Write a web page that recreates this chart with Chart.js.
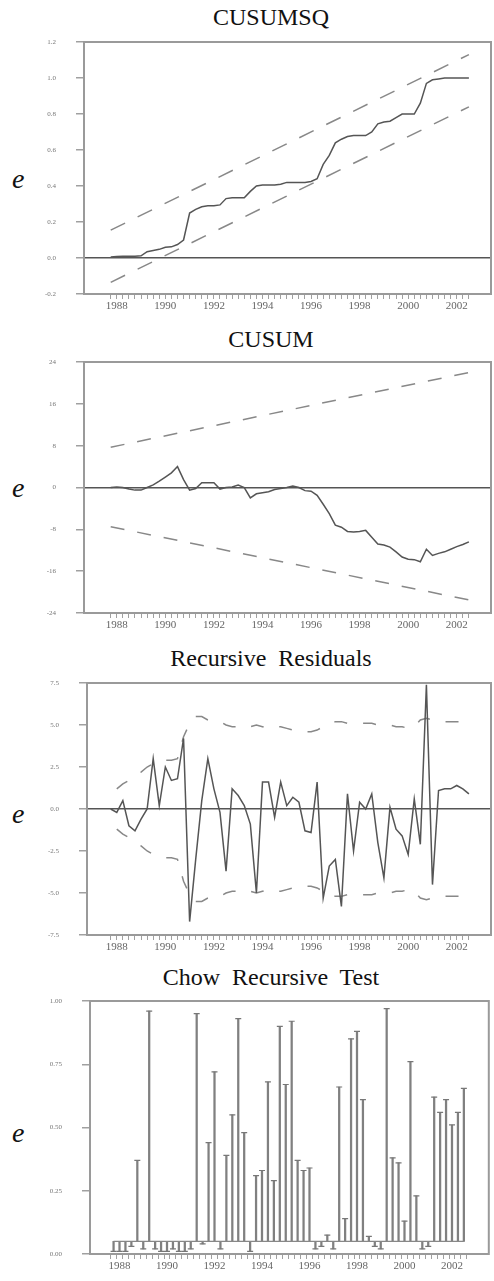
<!DOCTYPE html>
<html>
<head>
<meta charset="utf-8">
<script src="https://cdn.jsdelivr.net/npm/chart.js@4.4.0/dist/chart.umd.min.js"></script>
<style>
  body { margin: 0; background: #fff; }
  #page { position: relative; width: 494px; height: 1281px; overflow: hidden; background: #fff; }
  canvas { position: absolute; left: 0; }
  .title { position: absolute; left: 271px; transform: translateX(-50%); white-space: nowrap;
           font: 24px/24px "Liberation Serif", serif; color: #111; word-spacing: 6px; }
  .elab { position: absolute; left: 12px; font: italic 28px/28px "Liberation Serif", serif; color: #111; }
</style>
</head>
<body>
<div id="page">
  <div class="title" style="top:5px">CUSUMSQ</div>
  <div class="title" style="top:327px">CUSUM</div>
  <div class="title" style="top:646px">Recursive Residuals</div>
  <div class="title" style="top:965px">Chow Recursive Test</div>
  <div class="elab" style="top:165px">e</div>
  <div class="elab" style="top:474px">e</div>
  <div class="elab" style="top:800px">e</div>
  <div class="elab" style="top:1119px">e</div>
  <canvas id="c1" width="494" height="320" style="top:0px"></canvas>
  <canvas id="c2" width="494" height="320" style="top:320px"></canvas>
  <canvas id="c3" width="494" height="320" style="top:640px"></canvas>
  <canvas id="c4" width="494" height="321" style="top:960px"></canvas>
</div>
<script>
// trimestres 1988Q1 - 2002Q4
const quarters = [];
for (let y = 1988; y <= 2002; y++) {
    for (let q = 0; q < 4; q++) quarters.push(y + q / 4);
}
const yearLabels = [1988, 1990, 1992, 1994, 1996, 1998, 2000, 2002];

// CUSUMSQ
const cusumsq = [0.005, 0.008, 0.010, 0.010, 0.010, 0.012, 0.035, 0.042, 0.048, 0.060,
    0.062, 0.075, 0.10, 0.25, 0.27, 0.285, 0.29, 0.29, 0.295, 0.33,
    0.335, 0.335, 0.335, 0.37, 0.40, 0.405, 0.405, 0.405, 0.41, 0.42,
    0.42, 0.42, 0.42, 0.425, 0.44, 0.52, 0.57, 0.64, 0.66, 0.675,
    0.68, 0.68, 0.68, 0.70, 0.745, 0.755, 0.76, 0.78, 0.80, 0.80,
    0.80, 0.86, 0.97, 0.99, 0.995, 1.0, 1.0, 1.0, 1.0, 1.0];
const cusumsqUpper = [0.155, 1.13];   // inicio y fin de la banda
const cusumsqLower = [-0.135, 0.84];
const cusumsqTicks = [-0.2, 0.0, 0.2, 0.4, 0.6, 0.8, 1.0, 1.2];

// CUSUM
const cusum = [0.0, 0.1, 0.0, -0.3, -0.5, -0.5, 0.0, 0.5, 1.2, 2.0,
    2.8, 4.0, 1.5, -0.5, -0.2, 0.9, 0.9, 0.9, -0.3, 0.0,
    0.1, 0.45, 0.0, -2.0, -1.2, -1.0, -0.8, -0.4, -0.2, 0.0,
    0.3, 0.0, -0.6, -0.7, -1.5, -3.2, -5.0, -7.2, -7.6, -8.4,
    -8.5, -8.4, -8.2, -9.5, -10.8, -11.0, -11.4, -12.3, -13.3, -13.7,
    -13.8, -14.2, -11.8, -13.0, -12.6, -12.3, -11.8, -11.3, -10.9, -10.4];
const cusumUpper = [7.7, 22.0];
const cusumLower = [-7.5, -21.5];
const cusumTicks = [-24, -16, -8, 0, 8, 16, 24];

// Residuos recursivos y banda de +-2 errores estandar
const residuals = [0.0, -0.2, 0.5, -1.0, -1.3, -0.6, 0.0, 3.0, 0.2, 2.5,
    1.7, 1.8, 4.2, -6.7, -3.0, 0.5, 3.0, 1.2, -0.2, -3.7,
    1.2, 0.8, 0.2, -0.9, -5.0, 1.6, 1.6, -0.5, 1.6, 0.2,
    0.7, 0.4, -1.3, -1.4, 1.6, -5.3, -3.4, -3.0, -5.8, 0.9,
    -2.5, 0.4, 0.0, 0.9, -2.0, -4.1, 0.1, -1.2, -1.6, -2.7,
    0.6, -2.1, 7.4, -4.5, 1.1, 1.2, 1.2, 1.4, 1.2, 0.9];
const residBand = [null, 1.2, 1.5, 1.7, 2.0, 2.2, 2.5, 2.7, 2.8, 2.9,
    2.9, 3.0, 4.3, 5.1, 5.5, 5.5, 5.3, 5.2, 5.2, 5.0,
    4.9, 4.9, 4.8, 4.9, 5.0, 4.9, 4.8, 4.9, 4.9, 4.8,
    4.7, 4.6, 4.6, 4.6, 4.7, 4.9, 5.1, 5.2, 5.2, 5.1,
    5.1, 5.1, 5.1, 5.1, 5.0, 5.0, 5.0, 4.9, 4.9, 4.8,
    4.9, 5.3, 5.4, 5.3, 5.3, 5.2, 5.2, 5.2, 5.2, 5.2];
const residTicks = [-7.5, -5.0, -2.5, 0.0, 2.5, 5.0, 7.5];

// Prueba de Chow (probabilidades)
const chowProb = [0.01, 0.01, 0.01, 0.03, 0.37, 0.02, 0.96, 0.02, 0.01, 0.01,
    0.02, 0.01, 0.01, 0.02, 0.95, 0.04, 0.44, 0.72, 0.02, 0.39,
    0.55, 0.93, 0.48, 0.01, 0.31, 0.33, 0.68, 0.29, 0.90, 0.67,
    0.92, 0.37, 0.33, 0.34, 0.02, 0.03, 0.075, 0.02, 0.66, 0.14,
    0.85, 0.88, 0.61, 0.07, 0.03, 0.02, 0.97, 0.38, 0.36, 0.13,
    0.76, 0.23, 0.02, 0.03, 0.62, 0.56, 0.61, 0.51, 0.56, 0.655];
const chowLevel = 0.05;
const chowTicks = [0.00, 0.25, 0.50, 0.75, 1.00];

const SOLID = "#555";
const DASH = "#888";

// marco gris alrededor del area del grafico
const framePlugin = {
    id: "frame",
    beforeDatasetsDraw(chart) {
        const a = chart.chartArea;
        const ctx = chart.ctx;
        ctx.save();
        ctx.strokeStyle = "#9a9a9a";
        ctx.lineWidth = 2;
        ctx.strokeRect(a.left, a.top, a.right - a.left, a.bottom - a.top);
        ctx.restore();
    }
};

function series(values) {
    return quarters.map((x, i) => ({ x: x, y: values[i] }));
}
function ends(pair) {
    return [{ x: quarters[0], y: pair[0] }, { x: quarters[quarters.length - 1], y: pair[1] }];
}

function makeChart(id, type, datasets, yTicks, fmt, opts) {
    const left = opts.left;
    const xMin = 1988 - (110.7 - left) / 24.28;
    return new Chart(document.getElementById(id), {
        type: type,
        data: { datasets: datasets },
        plugins: [framePlugin],
        options: {
            responsive: false,
            animation: false,
            devicePixelRatio: 1,
            layout: { padding: { left: left - 50, right: 3, top: opts.top, bottom: opts.bottom } },
            plugins: { legend: { display: false }, tooltip: { enabled: false } },
            scales: {
                x: {
                    type: "linear",
                    min: xMin,
                    max: 2003.66,
                    afterBuildTicks: s => { s.ticks = quarters.map(v => ({ value: v })); },
                    afterFit: s => { s.height = 20; },
                    border: { display: false },
                    grid: { drawOnChartArea: false, tickLength: 5, tickColor: "#a0a0a0" },
                    ticks: {
                        autoSkip: false, maxRotation: 0, padding: 1, color: "#666",
                        font: { family: "Liberation Serif", size: 11 },
                        callback: v => yearLabels.includes(v - 0.25) ? String(v - 0.25) : ""
                    }
                },
                y: {
                    min: yTicks[0],
                    max: yTicks[yTicks.length - 1],
                    afterBuildTicks: s => { s.ticks = yTicks.map(v => ({ value: v })); },
                    afterFit: s => { s.width = 50; },
                    border: { display: false },
                    grid: {
                        tickLength: 8, tickColor: "#a0a0a0", lineWidth: 1.5,
                        color: c => (opts.zero && c.tick && c.tick.value === 0) ? "#555" : "rgba(0,0,0,0)"
                    },
                    ticks: {
                        padding: 20, color: "#777",
                        font: { family: "Liberation Serif", size: 7 },
                        callback: fmt
                    }
                }
            }
        }
    });
}

const lineStyle = { borderColor: SOLID, borderWidth: 1.5, pointRadius: 0, tension: 0, fill: false };
const dashStyle = (d) => ({ borderColor: DASH, borderWidth: 1.5, pointRadius: 0, tension: 0, fill: false, borderDash: d });

makeChart("c1", "line", [
    Object.assign({ data: series(cusumsq) }, lineStyle),
    Object.assign({ data: ends(cusumsqUpper) }, dashStyle([16, 14])),
    Object.assign({ data: ends(cusumsqLower) }, dashStyle([16, 14]))
], cusumsqTicks, v => v.toFixed(1), { left: 84, top: 42, bottom: 6, zero: true });

makeChart("c2", "line", [
    Object.assign({ data: series(cusum) }, lineStyle),
    Object.assign({ data: ends(cusumUpper) }, dashStyle([14, 13])),
    Object.assign({ data: ends(cusumLower) }, dashStyle([14, 13]))
], cusumTicks, v => String(v), { left: 84, top: 42, bottom: 7, zero: true });

makeChart("c3", "line", [
    Object.assign({ data: series(residuals) }, lineStyle),
    Object.assign({ data: series(residBand) }, dashStyle([13, 16])),
    Object.assign({ data: series(residBand.map(v => v === null ? null : -v)) }, dashStyle([13, 16]))
], residTicks, v => v.toFixed(1), { left: 87, top: 43, bottom: 5, zero: true });

makeChart("c4", "bar", [
    {
        type: "scatter",
        data: series(chowProb),
        pointStyle: "line", pointRadius: 3, borderColor: "#777", borderWidth: 1.2
    },
    {
        type: "line",
        data: ends([chowLevel, chowLevel]),
        borderColor: DASH, borderWidth: 1.2, pointRadius: 0
    },
    {
        type: "bar",
        data: quarters.map((x, i) => ({ x: x, y: [chowLevel, chowProb[i]] })),
        backgroundColor: "#808080", barThickness: 1.6
    }
], chowTicks, v => v.toFixed(2), { left: 90, top: 41, bottom: 7, zero: false });
</script>
</body>
</html>
